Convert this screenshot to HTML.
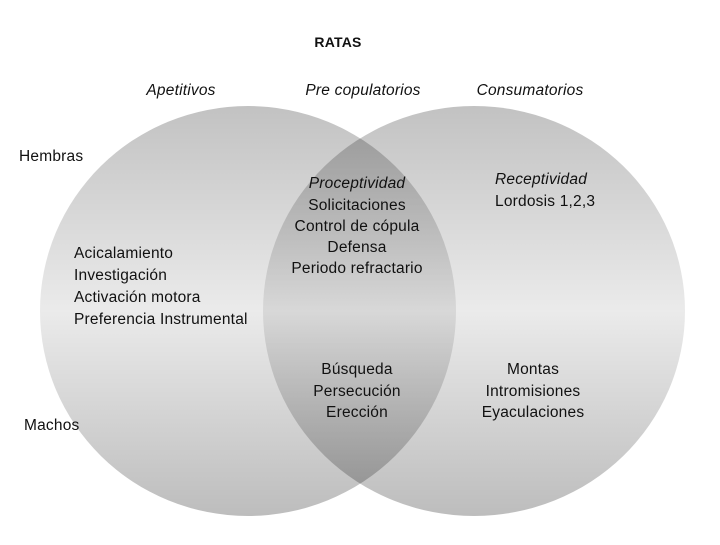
<!DOCTYPE html>
<html><head><meta charset="utf-8"><style>
body{margin:0;background:#fff;}
text{font-family:"Liberation Sans",sans-serif;font-size:15.5px;fill:#111;letter-spacing:0.2px;}
.i{font-style:italic;}
</style></head><body>
<svg width="720" height="540" viewBox="0 0 720 540" xmlns="http://www.w3.org/2000/svg">
<defs>
<linearGradient id="g" x1="0" y1="0" x2="0" y2="1">
<stop offset="0" stop-color="#000" stop-opacity="0.24"/>
<stop offset="0.5" stop-color="#000" stop-opacity="0.08"/>
<stop offset="1" stop-color="#000" stop-opacity="0.26"/>
</linearGradient>
</defs>
<ellipse cx="248" cy="311" rx="208" ry="205" fill="url(#g)"/>
<ellipse cx="474" cy="311" rx="211" ry="205" fill="url(#g)"/>
<text x="338" y="47" text-anchor="middle" style="font-weight:bold;font-size:14px">RATAS</text>
<text class="i" x="181" y="95" text-anchor="middle">Apetitivos</text>
<text class="i" x="363" y="95" text-anchor="middle">Pre copulatorios</text>
<text class="i" x="530" y="95" text-anchor="middle">Consumatorios</text>
<text x="19" y="161">Hembras</text>
<text x="24" y="430">Machos</text>
<text x="74" y="258">Acicalamiento</text>
<text x="74" y="280">Investigación</text>
<text x="74" y="302">Activación motora</text>
<text x="74" y="324">Preferencia Instrumental</text>
<g text-anchor="middle">
<text class="i" x="357" y="188">Proceptividad</text>
<text x="357" y="210">Solicitaciones</text>
<text x="357" y="231">Control de cópula</text>
<text x="357" y="252">Defensa</text>
<text x="357" y="273">Periodo refractario</text>
<text x="357" y="374">Búsqueda</text>
<text x="357" y="396">Persecución</text>
<text x="357" y="417">Erección</text>
<text x="533" y="374">Montas</text>
<text x="533" y="396">Intromisiones</text>
<text x="533" y="417">Eyaculaciones</text>
</g>
<text class="i" x="495" y="184">Receptividad</text>
<text x="495" y="206">Lordosis 1,2,3</text>
</svg>
</body></html>
